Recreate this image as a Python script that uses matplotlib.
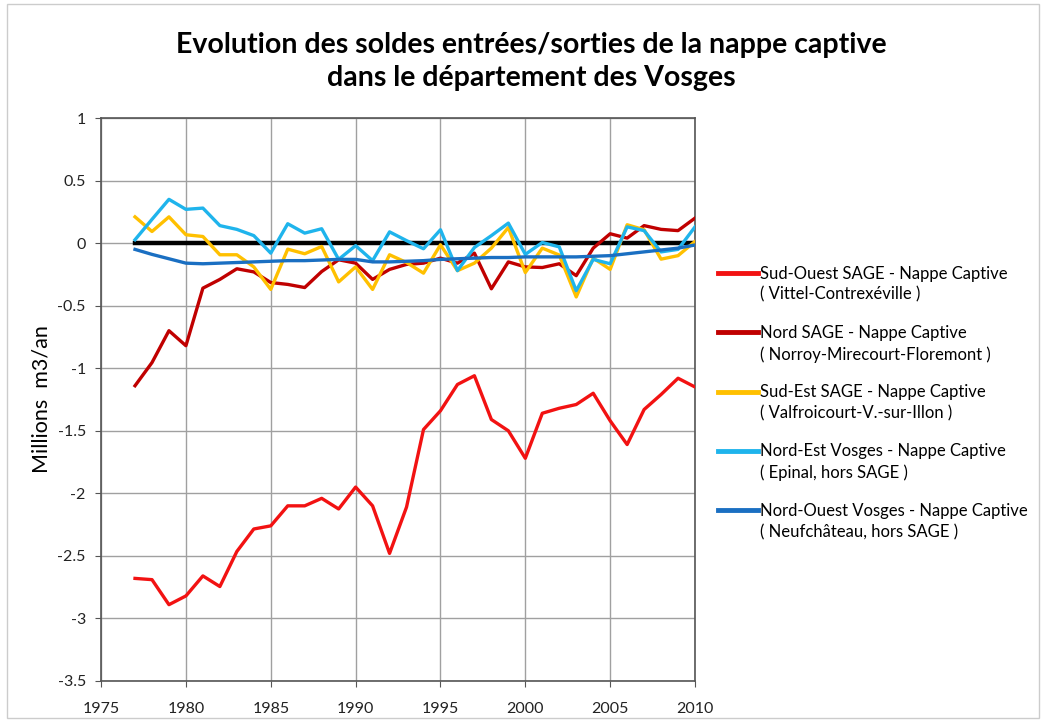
import numpy as np
import matplotlib
matplotlib.use('Agg')
import matplotlib.pyplot as plt
from matplotlib.patches import Rectangle

plt.rcParams['font.family'] = ['Lato', 'DejaVu Sans']

years = list(range(1977, 2011))

# Sud-Ouest SAGE (Vittel-Contrexeville)
sud_ouest = [-2.68, -2.69, -2.89, -2.82, -2.66, -2.745, -2.465, -2.285, -2.26, -2.10,
             -2.10, -2.04, -2.125, -1.95, -2.10, -2.48, -2.11, -1.49, -1.34, -1.13,
             -1.06, -1.41, -1.50, -1.72, -1.36, -1.32, -1.29, -1.20, -1.42, -1.61,
             -1.33, -1.21, -1.08, -1.15]
# Nord SAGE (Norroy-Mirecourt-Floremont)
nord = [-1.14, -0.955, -0.70, -0.82, -0.36, -0.29, -0.205, -0.23, -0.315, -0.33,
        -0.355, -0.227, -0.133, -0.16, -0.29, -0.21, -0.17, -0.16, -0.12, -0.16,
        -0.08, -0.365, -0.15, -0.19, -0.195, -0.165, -0.26, -0.04, 0.075, 0.04,
        0.14, 0.11, 0.10, 0.20]
# Sud-Est SAGE (Valfroicourt)
sud_est = [0.21, 0.093, 0.21, 0.067, 0.053, -0.093, -0.093, -0.19, -0.37, -0.048,
           -0.085, -0.027, -0.31, -0.19, -0.37, -0.093, -0.155, -0.24, -0.013, -0.22,
           -0.16, -0.04, 0.125, -0.235, -0.04, -0.095, -0.43, -0.12, -0.21, 0.147,
           0.107, -0.128, -0.10, 0.013]
# Nord-Est Vosges (Epinal)
nord_est = [0.027, 0.19, 0.35, 0.27, 0.28, 0.14, 0.11, 0.06, -0.08, 0.155,
            0.08, 0.115, -0.13, -0.02, -0.14, 0.09, 0.02, -0.045, 0.107, -0.22,
            -0.035, 0.06, 0.16, -0.09, 0.005, -0.03, -0.38, -0.13, -0.165, 0.13,
            0.10, -0.07, -0.05, 0.13]
# Nord-Ouest Vosges (Neufchateau)
nord_ouest = [-0.05, -0.09, -0.125, -0.16, -0.165, -0.16, -0.155, -0.15, -0.145, -0.14,
              -0.14, -0.135, -0.13, -0.13, -0.15, -0.15, -0.145, -0.14, -0.13, -0.125,
              -0.12, -0.115, -0.115, -0.11, -0.11, -0.11, -0.11, -0.105, -0.10, -0.085,
              -0.07, -0.055, -0.04, -0.015]

zero = [0.0] * len(years)

labels = ['Sud-Ouest SAGE - Nappe Captive\n( Vittel-Contrexéville )',
          'Nord SAGE - Nappe Captive\n( Norroy-Mirecourt-Floremont )',
          'Sud-Est SAGE - Nappe Captive\n( Valfroicourt-V.-sur-Illon )',
          'Nord-Est Vosges - Nappe Captive\n( Epinal, hors SAGE )',
          'Nord-Ouest Vosges - Nappe Captive\n( Neufchâteau, hors SAGE )']
colors = ['#f21212', '#c00000', '#ffc000', '#1fb4ec', '#1a6fc2']

fig = plt.figure(figsize=(10.42, 7.21), dpi=100)
ax = fig.add_axes([0.097, 0.0555, 0.570, 0.7808])

ax.plot(years, zero, color='black', lw=3.2, zorder=2)
series = [sud_ouest, nord, sud_est, nord_est, nord_ouest]
handles = []
for s, c, lab in zip(series, colors, labels):
    h, = ax.plot(years, s, color=c, lw=2.4, label=lab, zorder=3)
    handles.append(h)
# dark blue sits on top of the others
handles[4].set_zorder(4)

ax.set_xlim(1975, 2010)
ax.set_ylim(-3.5, 1)
ax.set_xticks(range(1975, 2011, 5))
ax.set_yticks(np.arange(-3.5, 1.01, 0.5))
ax.set_yticklabels(['-3.5', '-3', '-2.5', '-2', '-1.5', '-1', '-0.5', '0', '0.5', '1'])
ax.grid(True, color='#a0a0a0', lw=1)
ax.set_axisbelow(True)
for sp in ax.spines.values():
    sp.set_color('#555555')
    sp.set_linewidth(1.2)
ax.tick_params(labelsize=11.5, length=4, color='#555555', pad=7)
ax.tick_params(axis='x', pad=11)
for t in ax.get_xticklabels() + ax.get_yticklabels():
    t.set_color('#222222')
ax.set_ylabel('Millions  m3/an', fontsize=15.5, labelpad=4)

fig.text(0.51, 0.937, 'Evolution des soldes entrées/sorties de la nappe captive',
         ha='center', va='center', fontsize=20.5, fontweight='bold')
fig.text(0.51, 0.892, 'dans le département des Vosges',
         ha='center', va='center', fontsize=20.5, fontweight='bold')

leg = fig.legend(handles=handles, loc='upper left', bbox_to_anchor=(0.683, 0.641),
                 frameon=False, fontsize=12.0, handlelength=2.35, handletextpad=0.15,
                 labelspacing=1.3, borderaxespad=0)
for t in leg.get_texts():
    t.set_linespacing(1.4)
for ln in leg.get_lines():
    ln.set_linewidth(3.5)
    yd = ln.get_ydata()
    ln.set_ydata([v + 8.5 for v in yd])

fig.patches.append(Rectangle((0.007, 0.004), 0.99, 0.99, transform=fig.transFigure,
                             fill=False, edgecolor='#cccccc', lw=1))

fig.savefig('out.png', dpi=100)
